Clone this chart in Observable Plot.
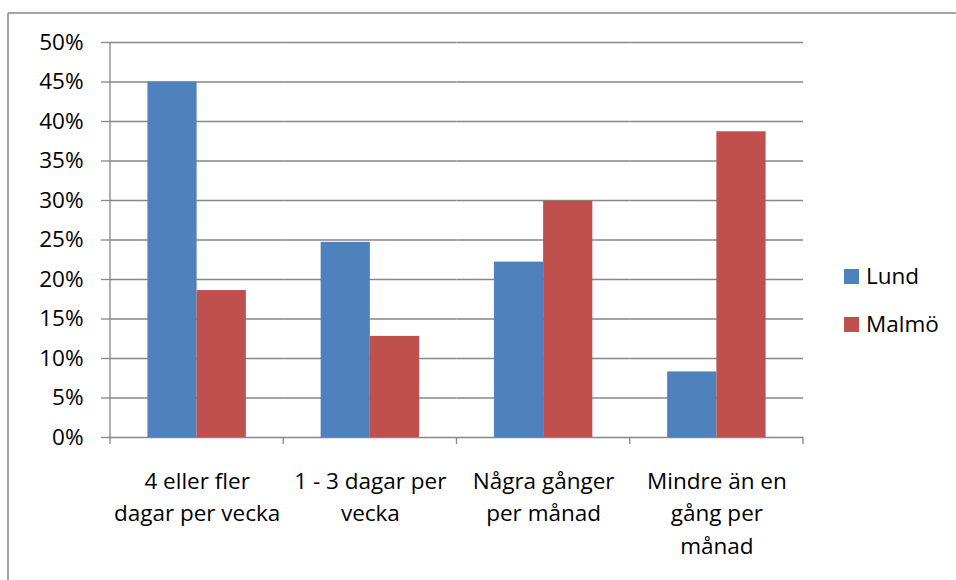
<!DOCTYPE html>
<html><head><meta charset="utf-8">
<script src="https://cdn.jsdelivr.net/npm/d3@7"></script>
<script src="https://cdn.jsdelivr.net/npm/@observablehq/plot@0.6"></script>
<style>
body{margin:0;background:#fff}
#chart{position:relative;width:956px;height:580px;overflow:hidden}
</style>
</head><body><div id="chart"></div>
<script>
const categories = ["4 eller fler dagar per vecka", "1 - 3 dagar per vecka", "Några gånger per månad", "Mindre än en gång per månad"];
const categoryLabels = ["4 eller fler\ndagar per vecka", "1 - 3 dagar per\nvecka", "Några gånger\nper månad", "Mindre än en\ngång per\nmånad"];
const series = ["Lund", "Malmö"];
const lund = [0.450, 0.247, 0.222, 0.083];
const malmo = [0.186, 0.128, 0.299, 0.387];
const yTicks = [0, 0.05, 0.10, 0.15, 0.20, 0.25, 0.30, 0.35, 0.40, 0.45, 0.50];
const colors = ["#4F81BD", "#C0504D"];

const values = [lund, malmo];
const rows = categories.flatMap((c, i) => series.map((s, j) => ({category: c, label: categoryLabels[i], series: s, value: values[j][i]})));
const grid = "#868686";
const font = "'Open Sans', sans-serif";

const plot = Plot.plot({
  width: 956, height: 580,
  marginLeft: 110, marginRight: 153, marginTop: 42, marginBottom: 143,
  style: {fontFamily: font, fontSize: "22.5px", color: "#000", background: "#fff", overflow: "visible"},
  facet: {data: rows, x: "category", label: null},
  fx: {domain: categories, paddingInner: 0, paddingOuter: 0, axis: null, round: false, label: null},
  x: {domain: series, paddingInner: 0, paddingOuter: 0.76, axis: null, round: false, label: null},
  y: {domain: [0, 0.5], ticks: yTicks, tickFormat: d3.format(".0%"), tickSize: 9, tickPadding: 18, label: null, axis: "left"},
  color: {domain: series, range: colors},
  marks: [
    Plot.ruleY(yTicks, {stroke: grid, strokeWidth: 1.3}),
    Plot.barY(rows, {x: "series", y: "value", fill: "series"}),
    Plot.text(rows, Plot.selectFirst({text: "label", frameAnchor: "bottom", lineAnchor: "top", dy: 28, lineHeight: 1.45, fill: "#000"}))
  ]
});

document.getElementById("chart").appendChild(plot);
const svg = d3.select(plot.tagName.toLowerCase() === "svg" ? plot : plot.querySelector("svg"));
svg.selectAll('[aria-label^="y-axis"] line, [aria-label^="y-axis"] path').attr("stroke", grid).attr("stroke-width", 1.3);
svg.selectAll('[aria-label^="y-axis"] text').attr("fill", "#000");

const y = plot.scale("y");
const fx = plot.scale("fx");
const yScale = Plot.scale({y: y});
const y0 = yScale.apply(0), yTop = yScale.apply(0.5);
const r0 = fx.range[0], r1 = fx.range[1];
const step = (r1 - r0) / fx.domain.length;
const g = svg.append("g");
for (let i = 0; i <= fx.domain.length; i++) {
  const xb = r0 + i * step;
  g.append("line").attr("x1", xb).attr("x2", xb).attr("y1", i === 0 ? yTop : y0).attr("y2", y0 + 7)
    .attr("stroke", grid).attr("stroke-width", 1.3);
}
// outer chart border (top and left visible)
g.append("line").attr("x1", 8).attr("x2", 956).attr("y1", 13).attr("y2", 13).attr("stroke", grid).attr("stroke-width", 1.5);
g.append("line").attr("x1", 8).attr("x2", 8).attr("y1", 13).attr("y2", 580).attr("stroke", grid).attr("stroke-width", 1.5);

// legend
const color = Plot.scale({color: plot.scale("color")});
const leg = svg.append("g").attr("font-family", font).attr("font-size", "22.5px").attr("text-anchor", "start");
series.forEach((s, i) => {
  leg.append("rect").attr("x", 844).attr("y", 269 + 48 * i).attr("width", 15).attr("height", 15).attr("fill", color.apply(s));
  leg.append("text").attr("x", 866).attr("y", 284 + 48 * i).attr("text-anchor", "start").attr("fill", "#000").text(s);
});
</script>
</body></html>
